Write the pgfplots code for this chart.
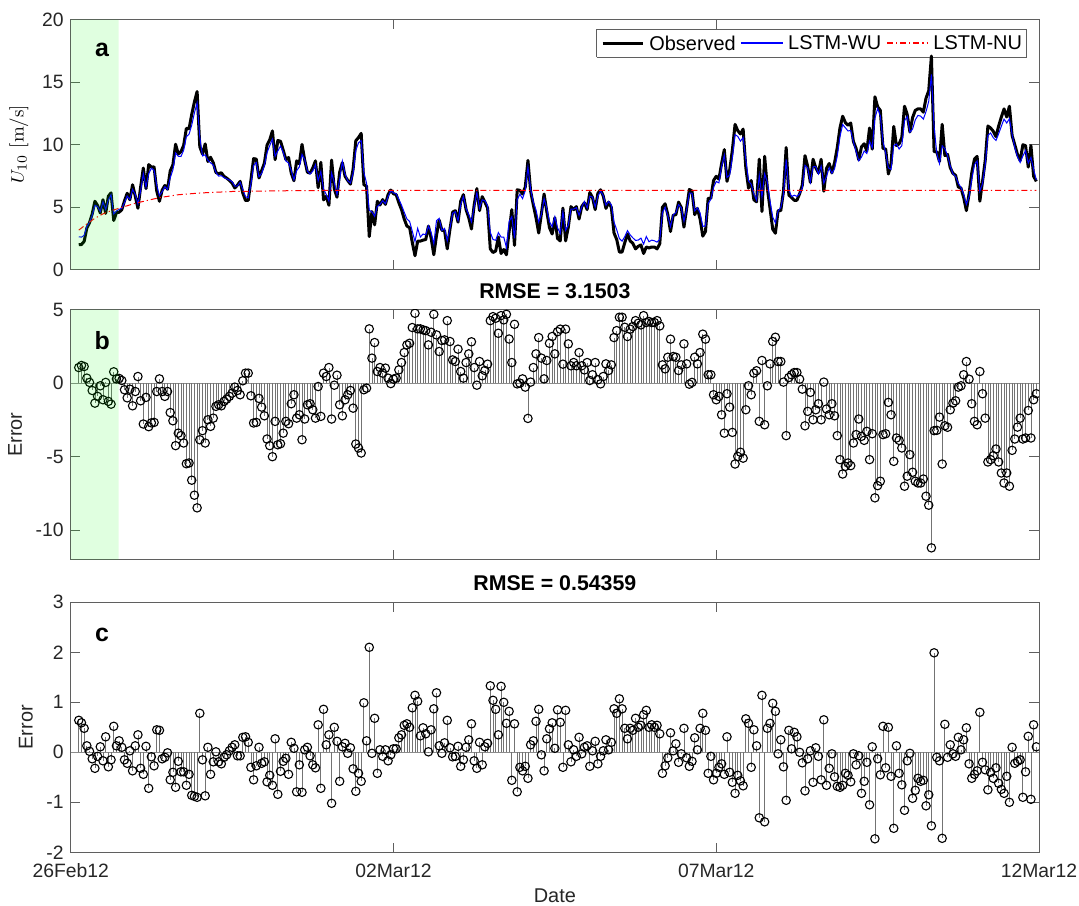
\documentclass[border=0pt]{standalone}
\usepackage{pgfplots}
\pgfplotsset{compat=1.18}
\usepackage{pgfplotstable}
\usepackage{fontspec}
\newfontfamily\helv{Liberation Sans}

\pgfplotstableread{
h obs wu eb ec
3 1.98 2.62 1.06 0.64
4 2.0 2.59 1.2 0.59
5 2.25 2.73 1.13 0.48
6 3.31 3.44 0.34 0.13
7 3.75 3.77 0.05 0.02
8 4.45 4.32 -0.5 -0.13
9 5.46 5.14 -1.36 -0.32
10 5.12 5.04 -0.9 -0.08
11 4.52 4.63 -0.18 0.11
12 5.58 5.41 -1.13 -0.17
13 4.49 4.8 0.05 0.31
14 5.86 5.57 -1.24 -0.29
15 6.13 5.98 -1.43 -0.15
16 3.92 4.44 0.77 0.52
17 4.55 4.68 0.29 0.13
18 4.58 4.81 0.32 0.23
19 4.79 4.89 0.18 0.1
20 5.49 5.34 -0.45 -0.15
21 6.1 5.88 -1.0 -0.22
22 5.58 5.61 -0.41 0.03
23 6.78 6.41 -1.54 -0.37
24 5.87 6.0 -0.57 0.13
25 4.9 5.25 0.45 0.35
26 6.6 6.28 -1.2 -0.32
27 8.12 7.68 -2.78 -0.44
28 6.47 6.59 -0.97 0.12
29 8.39 7.67 -2.96 -0.72
30 8.19 8.1 -2.7 -0.09
31 8.21 7.94 -2.67 -0.27
32 6.27 6.72 -0.57 0.45
33 5.46 5.9 0.29 0.44
34 6.35 6.22 -0.57 -0.13
35 6.72 6.62 -0.9 -0.1
36 6.42 6.41 -0.57 -0.01
37 7.88 7.33 -2.0 -0.55
38 8.37 7.97 -2.56 -0.4
39 10.02 9.32 -4.25 -0.7
40 9.24 9.06 -3.4 -0.18
41 9.43 9.04 -3.57 -0.39
42 9.93 9.54 -4.07 -0.39
43 11.29 10.63 -5.48 -0.66
44 11.26 10.82 -5.43 -0.44
45 12.41 11.55 -6.6 -0.86
46 13.41 12.53 -7.62 -0.88
47 14.24 13.34 -8.48 -0.9
48 9.82 10.6 -3.85 0.78
49 9.23 9.08 -3.23 -0.15
50 10.05 9.18 -4.07 -0.87
51 8.64 8.74 -2.49 0.1
52 8.98 8.54 -2.94 -0.44
53 8.55 8.36 -2.38 -0.19
54 7.76 7.77 -1.58 0.01
55 7.66 7.47 -1.47 -0.19
56 7.74 7.51 -1.54 -0.23
57 7.45 7.35 -1.24 -0.1
58 7.31 7.26 -1.09 -0.05
59 7.13 7.16 -0.9 0.03
60 6.92 7.02 -0.68 0.1
61 6.52 6.67 -0.27 0.15
62 6.75 6.68 -0.5 -0.07
63 7.05 6.98 -0.79 -0.07
64 6.1 6.4 0.16 0.3
65 5.52 5.83 0.68 0.31
66 5.53 5.73 0.68 0.2
67 7.13 6.83 -0.86 -0.3
68 8.87 8.32 -2.71 -0.55
69 8.83 8.56 -2.67 -0.27
70 7.32 7.42 -1.04 0.1
71 7.91 7.69 -1.63 -0.22
72 8.5 8.31 -2.22 -0.19
73 9.94 9.35 -3.8 -0.59
74 10.37 9.91 -4.25 -0.46
75 11.09 10.43 -5.0 -0.66
76 8.79 9.06 -2.6 0.27
77 10.32 9.48 -4.19 -0.84
78 10.26 9.88 -4.12 -0.38
79 9.56 9.38 -3.4 -0.18
80 8.8 8.68 -2.6 -0.12
81 8.96 8.52 -2.76 -0.44
82 7.71 7.91 -1.4 0.2
83 7.1 7.18 -0.79 0.08
84 8.69 7.9 -2.38 -0.79
85 8.46 8.21 -2.15 -0.25
86 10.01 9.21 -3.85 -0.8
87 8.75 8.8 -2.44 0.05
88 7.78 7.88 -1.47 0.1
89 7.71 7.64 -1.4 -0.07
90 8.12 7.87 -1.81 -0.25
91 8.69 8.38 -2.38 -0.31
92 6.54 7.09 -0.23 0.55
93 8.57 7.85 -2.26 -0.72
94 5.57 6.43 0.68 0.86
95 5.86 6.01 0.45 0.15
96 5.14 5.49 1.06 0.35
97 8.75 7.73 -2.44 -1.02
98 6.46 6.96 -0.14 0.5
99 5.78 6.0 0.54 0.22
100 7.79 7.21 -1.47 -0.58
101 8.55 8.66 -2.22 0.11
102 7.46 7.64 -1.13 0.18
103 7.12 7.1 -0.79 -0.02
104 6.83 6.92 -0.5 0.09
105 8.03 7.7 -1.7 -0.33
106 10.3 9.52 -4.14 -0.78
107 10.56 10.14 -4.41 -0.42
108 10.89 10.31 -4.75 -0.58
109 6.78 7.77 -0.45 0.99
110 6.67 6.9 -0.34 0.23
111 2.64 4.74 3.69 2.1
112 4.63 4.61 1.7 -0.02
113 3.57 4.25 2.76 0.68
114 5.46 5.04 0.79 -0.42
115 5.16 5.21 1.06 0.05
116 5.59 5.51 0.68 -0.08
117 5.21 5.26 1.02 0.05
118 5.99 5.82 0.34 -0.17
119 6.36 6.31 -0.03 -0.05
120 6.06 6.13 0.27 0.07
121 5.99 6.06 0.34 0.07
122 5.34 5.63 0.9 0.29
123 4.79 5.14 1.4 0.35
124 4.04 4.58 2.08 0.54
125 3.47 4.04 2.6 0.57
126 3.35 3.85 2.71 0.5
127 2.17 3.06 3.78 0.89
128 1.1 2.24 4.75 1.14
129 2.27 3.29 3.69 1.02
130 2.27 2.6 3.69 0.33
131 2.35 2.84 3.62 0.49
132 2.4 2.77 3.57 0.37
133 3.47 3.48 2.6 0.01
134 2.52 2.97 3.46 0.45
135 1.18 2.05 4.68 0.87
136 2.72 3.91 3.28 1.19
137 3.96 4.09 2.15 0.13
138 3.14 3.12 2.9 -0.02
139 3.1 3.29 2.94 0.19
140 1.65 2.29 4.25 0.64
141 3.22 3.31 2.83 0.09
142 4.59 4.5 1.58 -0.09
143 4.71 4.63 1.47 -0.08
144 3.79 3.91 2.31 0.12
145 5.46 5.18 0.79 -0.28
146 5.99 5.84 0.34 -0.15
147 4.79 4.89 1.4 0.1
148 4.14 4.39 1.99 0.25
149 3.24 3.81 2.81 0.57
150 5.16 4.99 1.06 -0.17
151 6.47 6.15 -0.14 -0.32
152 4.71 4.91 1.47 0.2
153 5.83 5.58 0.5 -0.25
154 5.39 5.5 0.86 0.11
155 4.91 5.09 1.29 0.18
156 1.65 2.98 4.25 1.33
157 1.36 2.4 4.52 1.04
158 1.48 2.34 4.41 0.86
159 2.6 2.95 3.39 0.35
160 1.28 2.6 4.59 1.32
161 1.6 2.6 4.3 1.0
162 1.18 1.76 4.68 0.58
163 3.03 3.85 3.0 0.82
164 4.79 4.23 1.4 -0.56
165 1.93 2.5 4.0 0.57
166 6.38 5.59 -0.05 -0.79
167 6.33 6.03 0 -0.3
168 6.04 5.67 0.29 -0.37
169 6.6 6.32 -0.27 -0.28
170 8.73 8.21 -2.4 -0.52
171 6.26 6.41 0.07 0.15
172 5.16 5.39 1.06 0.23
173 4.14 4.76 1.99 0.62
174 2.92 3.78 3.1 0.86
175 4.46 4.41 1.7 -0.05
176 6.04 5.67 0.29 -0.37
177 4.64 4.91 1.54 0.27
178 3.35 3.82 2.71 0.47
179 2.84 3.43 3.17 0.59
180 4.14 4.22 1.99 0.08
181 2.48 3.33 3.5 0.85
182 2.29 2.89 3.67 0.6
183 4.91 4.61 1.29 -0.3
184 2.29 3.13 3.67 0.84
185 3.39 3.54 2.67 0.15
186 5.03 4.84 1.18 -0.19
187 4.79 4.84 1.4 0.05
188 5.03 4.95 1.18 -0.08
189 4.04 4.34 2.08 0.3
190 5.03 5.0 1.18 -0.03
191 5.34 5.44 0.9 0.1
192 4.79 4.92 1.4 0.13
193 6.15 5.87 0.18 -0.28
194 5.76 5.79 0.57 0.03
195 4.79 5.01 1.4 0.22
196 6.1 5.87 0.23 -0.23
197 6.38 6.3 -0.05 -0.08
198 5.88 5.91 0.45 0.03
199 4.89 5.14 1.31 0.25
200 5.39 5.44 0.86 0.05
201 4.97 5.17 1.24 0.2
202 2.92 3.79 3.1 0.87
203 2.4 3.18 3.57 0.78
204 1.4 2.47 4.48 1.07
205 1.4 2.27 4.48 0.87
206 2.15 2.63 3.8 0.48
207 2.84 3.11 3.17 0.27
208 2.29 2.77 3.67 0.48
209 2.09 2.53 3.85 0.44
210 1.65 2.33 4.25 0.68
211 1.85 2.35 4.07 0.5
212 1.97 2.51 3.96 0.54
213 1.28 2.03 4.59 0.75
214 1.8 2.64 4.12 0.84
215 1.72 2.22 4.19 0.5
216 1.8 2.35 4.12 0.55
217 1.8 2.3 4.12 0.5
218 1.65 2.19 4.25 0.54
219 2.05 2.42 3.89 0.37
220 4.97 4.55 1.24 -0.42
221 5.26 4.99 0.97 -0.27
222 4.39 4.28 1.76 -0.11
223 3.04 3.43 2.99 0.39
224 4.34 4.37 1.81 0.03
225 4.39 4.56 1.76 0.17
226 5.39 5.19 0.86 -0.2
227 4.97 4.94 1.24 -0.03
228 3.39 3.87 2.67 0.48
229 4.89 4.78 1.31 -0.11
230 6.4 6.12 -0.07 -0.28
231 6.28 6.1 0.05 -0.18
232 4.39 4.68 1.76 0.29
233 4.89 4.94 1.31 0.05
234 4.04 4.52 2.08 0.48
235 2.67 3.45 3.33 0.78
236 3.04 3.48 2.99 0.44
237 5.7 5.28 0.57 -0.42
238 5.7 5.62 0.57 -0.08
239 7.12 6.57 -0.79 -0.55
240 7.46 7.04 -1.13 -0.42
241 7.23 6.93 -0.9 -0.3
242 8.48 8.25 -2.15 -0.23
243 9.59 9.15 -3.4 -0.44
244 7.05 7.36 -0.72 0.31
245 7.96 7.56 -1.63 -0.4
246 9.55 8.95 -3.35 -0.6
247 11.61 10.79 -5.5 -0.82
248 11.11 10.65 -4.98 -0.46
249 10.84 10.27 -4.7 -0.57
250 11.23 10.56 -5.1 -0.67
251 8.14 8.81 -1.81 0.67
252 6.51 7.09 -0.18 0.58
253 7.12 6.82 -0.79 -0.3
254 5.58 6.03 0.68 0.45
255 5.41 5.54 0.84 0.13
256 8.83 7.52 -2.6 -1.31
257 4.64 5.78 1.54 1.14
258 9.05 7.66 -2.83 -1.39
259 6.51 6.99 -0.18 0.48
260 4.89 5.47 1.31 0.58
261 3.22 4.2 2.83 0.98
262 2.9 3.72 3.12 0.82
263 4.71 4.68 1.47 -0.03
264 4.71 4.96 1.47 0.25
265 6.26 5.97 0.07 -0.29
266 9.76 8.8 -3.57 -0.96
267 5.95 6.39 0.38 0.44
268 5.76 5.83 0.57 0.07
269 5.54 5.94 0.72 0.4
270 5.54 5.85 0.72 0.31
271 6.06 6.06 0.27 0
272 6.74 6.53 -0.41 -0.21
273 9.11 8.34 -2.9 -0.77
274 8.25 8.12 -1.92 -0.13
275 6.96 6.99 -0.63 0.03
276 8.82 8.22 -2.49 -0.6
277 8.14 8.23 -1.81 0.09
278 7.73 7.65 -1.4 -0.08
279 8.82 8.27 -2.49 -0.55
280 6.26 6.91 0.07 0.65
281 8.09 7.43 -1.76 -0.66
282 8.48 8.16 -2.15 -0.32
283 7.73 7.7 -1.4 -0.03
284 8.55 8.06 -2.22 -0.49
285 9.76 9.08 -3.57 -0.68
286 11.32 10.62 -5.2 -0.7
287 12.26 11.6 -6.18 -0.66
288 11.76 11.34 -5.66 -0.42
289 11.54 11.08 -5.43 -0.46
290 11.72 11.13 -5.61 -0.59
291 10.24 10.21 -4.07 -0.03
292 9.69 9.44 -3.5 -0.25
293 8.77 8.7 -2.44 -0.07
294 9.81 8.99 -3.62 -0.82
295 10.06 9.48 -3.89 -0.58
296 9.48 9.28 -3.28 -0.2
297 11.32 10.27 -5.2 -1.05
298 9.63 9.74 -3.44 0.11
299 13.82 12.09 -7.8 -1.73
300 13.02 12.89 -6.97 -0.13
301 12.73 12.28 -6.67 -0.45
302 9.69 10.21 -3.5 0.52
303 9.63 9.32 -3.44 -0.31
304 7.64 8.14 -1.31 0.5
305 8.48 8.0 -2.15 -0.48
306 11.44 9.92 -5.32 -1.52
307 9.91 10.04 -3.73 0.13
308 10.06 9.64 -3.89 -0.42
309 10.56 9.91 -4.41 -0.65
310 13.06 11.9 -7.01 -1.16
311 12.41 12.24 -6.33 -0.17
312 11.0 10.98 -4.86 -0.02
313 12.15 11.23 -6.06 -0.92
314 12.73 11.97 -6.67 -0.76
315 12.85 12.33 -6.79 -0.52
316 12.85 12.27 -6.79 -0.58
317 12.59 12.03 -6.52 -0.56
318 13.71 12.64 -7.69 -1.07
319 14.3 13.45 -8.3 -0.85
320 17.08 15.61 -11.2 -1.47
321 9.43 11.42 -3.23 1.99
322 9.41 9.31 -3.21 -0.1
323 8.64 8.47 -2.31 -0.17
324 11.61 9.89 -5.5 -1.72
325 9.11 9.67 -2.9 0.56
326 9.21 9.11 -3.0 -0.1
327 8.14 8.29 -1.81 0.15
328 7.69 7.66 -1.36 -0.03
329 7.53 7.45 -1.2 -0.08
330 6.6 6.9 -0.27 0.3
331 6.51 6.56 -0.18 0.05
332 5.76 6.01 0.57 0.25
333 4.71 5.2 1.47 0.49
334 6.06 5.83 0.27 -0.23
335 7.73 7.21 -1.4 -0.52
336 8.83 8.39 -2.6 -0.44
337 9.05 8.68 -2.83 -0.37
338 5.46 6.26 0.79 0.8
339 7.05 6.85 -0.72 -0.2
340 8.71 8.36 -2.38 -0.35
341 11.48 10.73 -5.36 -0.75
342 11.32 10.92 -5.2 -0.4
343 11.06 10.54 -4.93 -0.52
344 10.63 10.32 -4.48 -0.31
345 11.48 10.86 -5.36 -0.62
346 12.2 11.46 -6.11 -0.74
347 12.85 12.03 -6.79 -0.82
348 12.2 11.72 -6.11 -0.48
349 13.06 12.06 -7.01 -1.0
350 10.72 10.82 -4.57 0.1
351 9.98 9.76 -3.8 -0.22
352 9.2 9.02 -2.99 -0.18
353 8.71 8.56 -2.38 -0.15
354 9.98 9.08 -3.8 -0.9
355 9.91 9.52 -3.73 -0.39
356 8.19 8.51 -1.86 0.32
357 9.91 8.97 -3.73 -0.94
358 7.46 8.01 -1.13 0.55
359 7.05 7.16 -0.72 0.11
}\datatab

\pgfplotstableread{
h nu
3 3.15
6 3.65
9 4.1
12 4.45
15 4.7
18 4.9
21 5.1
24 5.3
28 5.5
33 5.75
40 5.98
48 6.12
60 6.24
80 6.3
100 6.33
359 6.33
}\nutab

\definecolor{axgray}{RGB}{95,95,95}
\definecolor{txtgray}{RGB}{38,38,38}
\definecolor{mblue}{RGB}{0,0,255}
\definecolor{mred}{RGB}{255,0,0}

\pgfplotsset{
  myax/.style={
    scale only axis, width=484.15bp, height=125bp,
    xmin=0, xmax=360, xtick={0,120,240,360},
    tick align=inside, major tick length=4.8bp,
    axis line style={draw=axgray, line width=0.5bp},
    every tick/.append style={draw=axgray, line width=0.5bp},
    tick label style={font=\helv\fontsize{9.7}{11}\selectfont, text=txtgray},
    /pgf/number format/assume math mode=true,
    label style={font=\helv\fontsize{10}{12}\selectfont, text=txtgray},
    title style={font=\helv\bfseries\fontsize{10.7}{12.5}\selectfont, text=black, inner sep=2.5bp, yshift=-3bp},
    clip marker paths=true,
  },
  stemplot/.style={ycomb, draw=black!55, line width=0.4bp, mark=o, mark size=2.1bp,
    mark options={draw=black, solid, line width=0.55bp, fill=none}},
  nustyle/.style={color=mred, line width=0.5bp, dash pattern=on 3bp off 1.5bp on 0.6bp off 1.5bp},
}

\begin{document}
\begin{tikzpicture}
\path[use as bounding box] (-35.35bp,-318.15bp) rectangle (504.15bp,134.75bp);

% Panel a
\begin{axis}[myax,
  at={(0bp,0bp)},
  ymin=0, ymax=20, ytick={0,5,10,15,20},
  xticklabels={},
  ylabel={$U_{10}$ [m/s]},
  ylabel style={font=\rmfamily\fontsize{9.5}{11}\selectfont, text=black},
]
% legend box first (underneath everything that follows)
\addplot[forget plot, draw=axgray, line width=0.5bp, fill=white] coordinates {(195.5,17.0) (355.4,17.0) (355.4,19.22) (195.5,19.22) (195.5,17.0)};
\addplot[forget plot, color=black, line width=1.5bp, line join=round] table[x=h, y=obs] {\datatab};
\addplot[forget plot, color=mblue, line width=0.5bp] table[x=h, y=wu] {\datatab};
\addplot[forget plot, nustyle] table[x=h, y=nu] {\nutab};
% legend samples
\addplot[forget plot, color=black, line width=1.5bp] coordinates {(197.8,18.12) (212.7,18.12)};
\addplot[forget plot, color=mblue, line width=0.6bp] coordinates {(249.2,18.12) (264.8,18.12)};
\addplot[forget plot, nustyle, line width=0.6bp] coordinates {(303.5,18.12) (318.7,18.12)};
% shaded spin-up period, drawn last
\addplot[forget plot, draw=none, fill=green, fill opacity=0.12] coordinates {(0,0) (17.8,0) (17.8,20) (0,20) (0,0)};
\node[anchor=west, inner sep=0pt, font=\helv\fontsize{10}{12}\selectfont, text=black] at (axis cs:215.0,18.12) {Observed};
\node[anchor=west, inner sep=0pt, font=\helv\fontsize{10}{12}\selectfont, text=black] at (axis cs:266.6,18.12) {LSTM-WU};
\node[anchor=west, inner sep=0pt, font=\helv\fontsize{10}{12}\selectfont, text=black] at (axis cs:320.6,18.12) {LSTM-NU};
\node[font=\helv\bfseries\fontsize{12.5}{14}\selectfont, text=black] at (rel axis cs:0.0325,0.878) {a};
\end{axis}

% Panel b
\begin{axis}[myax,
  at={(0bp,-145.05bp)},
  ymin=-12, ymax=5, ytick={-10,-5,0,5},
  xticklabels={},
  ylabel={Error},
  title={RMSE = 3.1503},
]
\addplot[forget plot, black!45, line width=0.5bp] coordinates {(0,0) (360,0)};
\addplot[stemplot] table[x=h, y=eb] {\datatab};
\addplot[forget plot, draw=none, fill=green, fill opacity=0.12] coordinates {(0,-12) (17.8,-12) (17.8,5) (0,5) (0,-12)};
\node[font=\helv\bfseries\fontsize{12.5}{14}\selectfont, text=black] at (rel axis cs:0.0325,0.878) {b};
\end{axis}

% Panel c
\begin{axis}[myax,
  at={(0bp,-291.4bp)},
  ymin=-2, ymax=3, ytick={-2,-1,0,1,2,3},
  xticklabels={26Feb12,02Mar12,07Mar12,12Mar12},
  xticklabel style={yshift=-2.2bp},
  xlabel={Date},
  xlabel style={yshift=1.5bp},
  ylabel={Error},
  title={RMSE = 0.54359},
]
\addplot[forget plot, black!45, line width=0.5bp] coordinates {(0,0) (360,0)};
\addplot[stemplot] table[x=h, y=ec] {\datatab};
\node[font=\helv\bfseries\fontsize{12.5}{14}\selectfont, text=black] at (rel axis cs:0.0325,0.87) {c};
\end{axis}
\end{tikzpicture}
\end{document}
